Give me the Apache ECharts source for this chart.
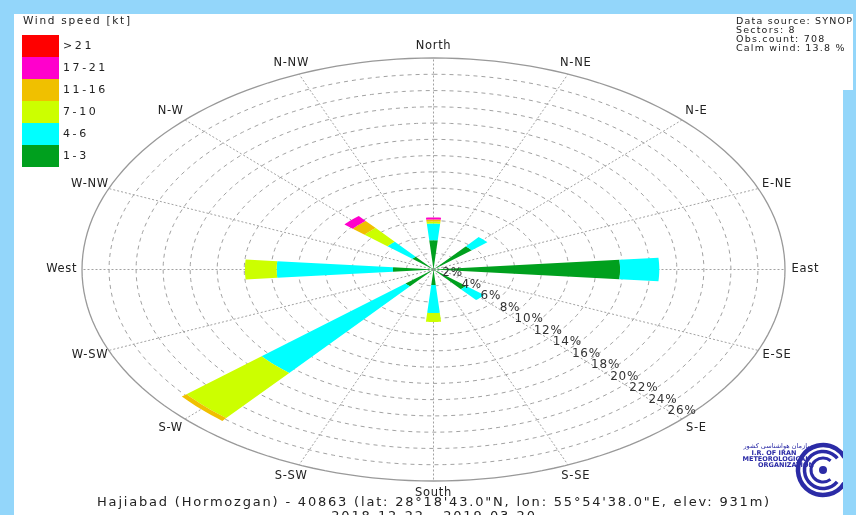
<!DOCTYPE html>
<html><head><meta charset="utf-8">
<script src="https://cdn.jsdelivr.net/npm/echarts@6/dist/echarts.min.js"></script>
<style>html,body{margin:0;padding:0;background:#93d6fa;overflow:hidden}#c{width:856px;height:515px}</style>
</head><body><div id="c"></div>
<script>
// ---- data ----
const directions = ['N', 'NE', 'E', 'SE', 'S', 'SW', 'W', 'NW'];
const directionAngles = [0, 45, 90, 135, 180, 225, 270, 315];
const speedClasses = ['1-3', '4-6', '7-10', '11-16', '17-21', '>21'];
const classColors = ['#00a01e', '#00ffff', '#ccff00', '#f0c000', '#ff00cc', '#ff0000'];
const freq_1_3   = [3.6, 3.7, 13.8, 3.15, 1.9, 2.7, 3.0, 2.05];
const freq_4_6   = [2.05, 1.5, 2.9, 1.75, 3.45, 13.9, 8.6, 2.4];
const freq_7_10  = [0.25, 0, 0, 0, 1.1, 7.25, 2.35, 2.2];
const freq_11_16 = [0.25, 0, 0, 0, 0, 0.45, 0, 1.15];
const freq_17_21 = [0.25, 0, 0, 0, 0, 0, 0, 0.8];
const freq_gt21  = [0, 0, 0, 0, 0, 0, 0, 0];
const ringTicks = [2, 4, 6, 8, 10, 12, 14, 16, 18, 20, 22, 24, 26];
const compassLabels = ['North', 'N-NE', 'N-E', 'E-NE', 'East', 'E-SE', 'S-E', 'S-SE',
                       'South', 'S-SW', 'S-W', 'W-SW', 'West', 'W-NW', 'N-W', 'N-NW'];
const infoLines = ['Data source: SYNOP', 'Sectors: 8', 'Obs.count: 708', 'Calm wind: 13.8 %'];
const titleLine1 = 'Hajiabad (Hormozgan) - 40863 (lat: 28°18\'43.0"N, lon: 55°54\'38.0"E, elev: 931m)';
const titleLine2 = '2018-12-22 - 2019-03-20';

const classData = [freq_1_3, freq_4_6, freq_7_10, freq_11_16, freq_17_21, freq_gt21];
const RMAX = 26;
const HALF = 5;
const FONT = 'DejaVu Sans, sans-serif';

// letter spacing of the reference's texts, keyed by font size
const LETTER_SPACING = { '13px': 1.8, '9.5px': 1.2, '10.5px': 1.7, '11px': 2.6, '11.5px': 0.7, '12px': 0.8 };
(function () {
  const proto = CanvasRenderingContext2D.prototype;
  if (!('letterSpacing' in proto)) return;
  const orig = proto.fillText;
  proto.fillText = function (t, x, y, w) {
    const m = /(\d+(?:\.\d+)?)px/.exec(this.font);
    const ls = m ? (LETTER_SPACING[m[1] + 'px'] || 0) : 0;
    this.letterSpacing = ls + 'px';
    return w === undefined ? orig.call(this, t, x, y) : orig.call(this, t, x, y, w);
  };
})();

function P(api, r, deg) {
  const t = deg * Math.PI / 180;
  return api.coord([r * Math.sin(t), r * Math.cos(t)]);
}
function txt(text, x, y, font, align, fill) {
  return { type: 'text', x: x, y: y, style: {
    text: text, font: font + ' ' + FONT, fill: fill || '#222',
    align: align, textAlign: align, verticalAlign: 'middle', textVerticalAlign: 'middle' } };
}

const series = [];
// grid rings
series.push({
  type: 'custom', name: 'rings', silent: true, z: 1,
  data: ringTicks.map(v => [0, v]),
  renderItem: function (params, api) {
    const r = api.value(1), pts = [];
    for (let a = 0; a <= 360; a += 2) pts.push(P(api, r, a));
    const outer = r >= RMAX;
    return { type: 'polyline', shape: { points: pts }, style: {
      stroke: outer ? '#999999' : '#a2a2a2', lineWidth: outer ? 1.3 : 1,
      lineDash: outer ? null : [4, 4], fill: null } };
  }
});
// spokes
series.push({
  type: 'custom', name: 'spokes', silent: true, z: 1,
  data: compassLabels.map((c, i) => [i, 0]),
  renderItem: function (params, api) {
    const a = api.value(0) * 22.5;
    const p0 = P(api, 0, a), p1 = P(api, RMAX, a);
    return { type: 'line', shape: { x1: p0[0], y1: p0[1], x2: p1[0], y2: p1[1] },
      style: { stroke: '#a2a2a2', lineWidth: 1, lineDash: [2, 2] } };
  }
});
// wedges, one series per speed class (stacked outward)
speedClasses.forEach((name, i) => {
  const data = directions.map((dir, d) => {
    let base = 0;
    for (let j = 0; j < i; j++) base += classData[j][d];
    return [d, base, base + classData[i][d]];
  }).filter(v => v[2] > v[1]);
  series.push({
    type: 'custom', name: name, z: 3,
    itemStyle: { color: classColors[i] },
    data: data,
    renderItem: function (params, api) {
      const d = api.value(0), r0 = api.value(1), r1 = api.value(2);
      const a = directionAngles[d], n = 8, pts = [];
      for (let k = 0; k <= n; k++) pts.push(P(api, r1, a - HALF + 2 * HALF * k / n));
      if (r0 <= 0) pts.push(P(api, 0, a));
      else for (let k = n; k >= 0; k--) pts.push(P(api, r0, a - HALF + 2 * HALF * k / n));
      return { type: 'polygon', shape: { points: pts }, style: { fill: classColors[i], stroke: null } };
    }
  });
});
// ring labels along S-E diagonal
series.push({
  type: 'custom', name: 'ringLabels', silent: true, z: 5,
  data: ringTicks.map(v => [0, v]),
  renderItem: function (params, api) {
    const r = api.value(1), p = P(api, r, 135);
    return txt(r + '%', p[0], p[1] - 8, '12px', 'center', '#333');
  }
});
// compass labels
series.push({
  type: 'custom', name: 'compass', silent: true, z: 5,
  data: compassLabels.map((c, i) => [i, 0]),
  renderItem: function (params, api) {
    const i = api.value(0), p = P(api, 27.5, i * 22.5);
    return txt(compassLabels[i], p[0], p[1], '11.5px', 'center', '#222');
  }
});

const graphics = [
  { type: 'rect', z: -10, shape: { x: 14, y: 14, width: 829, height: 510 }, style: { fill: '#ffffff' } },
  { type: 'rect', z: -10, shape: { x: 730, y: 14, width: 123, height: 76 }, style: { fill: '#ffffff' } },
  txt('Wind speed [kt]', 23, 21, '10.5px', 'left', '#222'),
  txt(titleLine1, 434, 503, '13px', 'center', '#222'),
  txt(titleLine2, 434, 517, '13px', 'center', '#222')
];
infoLines.forEach((s, k) => graphics.push(txt(s, 736, 22 + k * 8.7, '9.5px', 'left', '#222')));
// logo
const LB = '#2b2ba6';
graphics.push(txt('سازمان هواشناسی کشور', 778, 446, '6.5px', 'center', LB));
graphics.push(txt('I.R. OF IRAN', 774, 453, 'bold 6.5px', 'center', LB));
graphics.push(txt('METEOROLOGICAL', 776, 459, 'bold 6.5px', 'center', LB));
graphics.push(txt('ORGANIZATION', 786, 465, 'bold 6.5px', 'center', LB));
[[25, 4.5, 0.55, 5.75], [18.5, 3.5, 0.7, 5.6], [12, 3, 0.9, 5.4]].forEach(a => {
  graphics.push({ type: 'arc', shape: { cx: 823, cy: 470, r: a[0], startAngle: a[2], endAngle: a[3] },
    style: { stroke: LB, lineWidth: a[1], fill: null } });
});
graphics.push({ type: 'circle', shape: { cx: 823, cy: 470, r: 4 }, style: { fill: LB } });
graphics.push({ type: 'rect', z: 10, shape: { x: 843, y: 90, width: 13, height: 425 }, style: { fill: '#93d6fa' } });

const chart = echarts.init(document.getElementById('c'));
chart.setOption({
  animation: false,
  backgroundColor: 'transparent',
  grid: { left: 82, right: 71, top: 58, bottom: 34 },
  xAxis: { type: 'value', min: -RMAX, max: RMAX, show: false },
  yAxis: { type: 'value', min: -RMAX, max: RMAX, show: false },
  legend: {
    orient: 'vertical', left: 22, top: 35, padding: 0, itemGap: 0,
    itemWidth: 37, itemHeight: 22, icon: 'rect', selectedMode: false,
    data: ['>21', '17-21', '11-16', '7-10', '4-6', '1-3'],
    textStyle: { fontFamily: FONT, fontSize: 11, color: '#222', padding: [0, 0, 0, -1] }
  },
  graphic: { elements: graphics },
  series: series
});
</script></body></html>
